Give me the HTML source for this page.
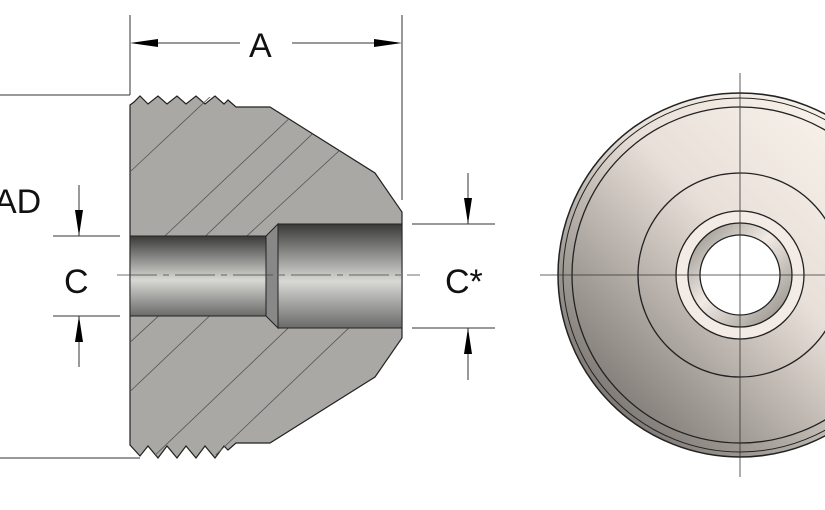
<!DOCTYPE html><html><head><style>body{margin:0;background:#fff}svg{display:block}</style></head><body>
<svg width="825" height="510" xmlns="http://www.w3.org/2000/svg">
<defs>
<linearGradient id="bore" x1="0" y1="0" x2="0" y2="1"><stop offset="0" stop-color="#3a3a3a"/><stop offset="0.55" stop-color="#d8d8d4"/><stop offset="1" stop-color="#6a6a6a"/></linearGradient>
<linearGradient id="face" x1="0" y1="1" x2="1" y2="0"><stop offset="0" stop-color="#5a5653"/><stop offset="0.55" stop-color="#e8e0d8"/><stop offset="1" stop-color="#fffaf2"/></linearGradient>
<linearGradient id="ring" x1="0" y1="0" x2="1" y2="1"><stop offset="0" stop-color="#8a8580"/><stop offset="0.45" stop-color="#f2ebe5"/><stop offset="1" stop-color="#8a8580"/></linearGradient>
<clipPath id="bc"><path d="M130,105 L138,97 L230,97 L236,107 L270,107 L375,173 L402,212 L402,338 L375,377 L270,443 L236,443 L230,455 L138,455 L130,445 Z"/></clipPath>
</defs>
<g fill="none" stroke="#333" stroke-width="1">
<line x1="130" y1="15" x2="130" y2="95"/><line x1="402" y1="15" x2="402" y2="200"/>
<line x1="135" y1="43" x2="240" y2="43"/><line x1="292" y1="43" x2="397" y2="43"/>
<line x1="0" y1="95" x2="130" y2="95"/><line x1="0" y1="458" x2="140" y2="458"/>
<line x1="53" y1="236" x2="120" y2="236"/><line x1="53" y1="316" x2="120" y2="316"/>
<line x1="79" y1="185" x2="79" y2="236"/><line x1="79" y1="316" x2="79" y2="367"/>
<line x1="412" y1="224" x2="495" y2="224"/><line x1="412" y1="328" x2="495" y2="328"/>
<line x1="468" y1="173" x2="468" y2="224"/><line x1="468" y1="328" x2="468" y2="380"/>
</g>
<g fill="#000">
<polygon points="130,43 158,39 158,47"/><polygon points="402,43 374,39 374,47"/>
<polygon points="79,236 75,210 83,210"/><polygon points="79,316 75,342 83,342"/>
<polygon points="468,224 464,198 472,198"/><polygon points="468,328 464,354 472,354"/>
</g>
<path d="M130,105 L134,102 L140,96 L148,104 L158,96 L167,104 L177,96 L186,104 L196,96 L205,104 L215,96 L224,104 L228,100 L236,107 L270,107 L375,173 L402,212 L402,338 L375,377 L270,443 L236,443 L228,450 L224,446 L215,458 L205,446 L196,458 L186,446 L177,458 L167,446 L158,458 L148,446 L140,456 L130,445 Z" fill="#a9a8a4" stroke="#222" stroke-width="1.2"/>
<g clip-path="url(#bc)" stroke="#555" stroke-width="0.8">
<line x1="100" y1="200" x2="260" y2="50"/><line x1="150" y1="250" x2="330" y2="80"/><line x1="170" y1="270" x2="400" y2="50"/><line x1="210" y1="270" x2="470" y2="30"/>
<line x1="100" y1="420" x2="300" y2="230"/><line x1="150" y1="460" x2="370" y2="250"/><line x1="200" y1="470" x2="420" y2="260"/><line x1="290" y1="460" x2="470" y2="290"/><line x1="100" y1="370" x2="230" y2="250"/>
</g>
<rect x="130" y="236" width="136" height="80" fill="url(#bore)" stroke="#222"/>
<polygon points="266,236 278,224 278,328 266,316" fill="#888" stroke="#222"/>
<rect x="278" y="224" width="124" height="104" fill="url(#bore)" stroke="#222"/>
<line x1="117" y1="275" x2="420" y2="275" stroke="#444" stroke-width="0.8" stroke-dasharray="40,6,6,6"/>
<g font-family="Liberation Sans, sans-serif" font-size="34" fill="#111">
<text x="249" y="57">A</text><text x="-6" y="213">AD</text><text x="64" y="293">C</text><text x="445" y="293">C*</text>
</g>
<g stroke="#222">
<circle cx="740" cy="275" r="182" fill="url(#face)" stroke-width="1.5"/>
<circle cx="740" cy="275" r="177" fill="none"/>
<circle cx="740" cy="275" r="168" fill="none" stroke-width="1.3"/>
<circle cx="740" cy="275" r="102" fill="none" stroke-width="1.3"/>
<circle cx="740" cy="275" r="64" fill="#f3ece6" stroke-width="1.3"/>
<circle cx="740" cy="275" r="52" fill="url(#ring)" stroke-width="1.3"/>
<circle cx="740" cy="275" r="40" fill="#fff" stroke-width="1.3"/>
</g>
<g stroke="#333" stroke-width="0.8">
<line x1="740" y1="73" x2="740" y2="477"/><line x1="540" y1="275" x2="825" y2="275"/>
</g>
</svg></body></html>
